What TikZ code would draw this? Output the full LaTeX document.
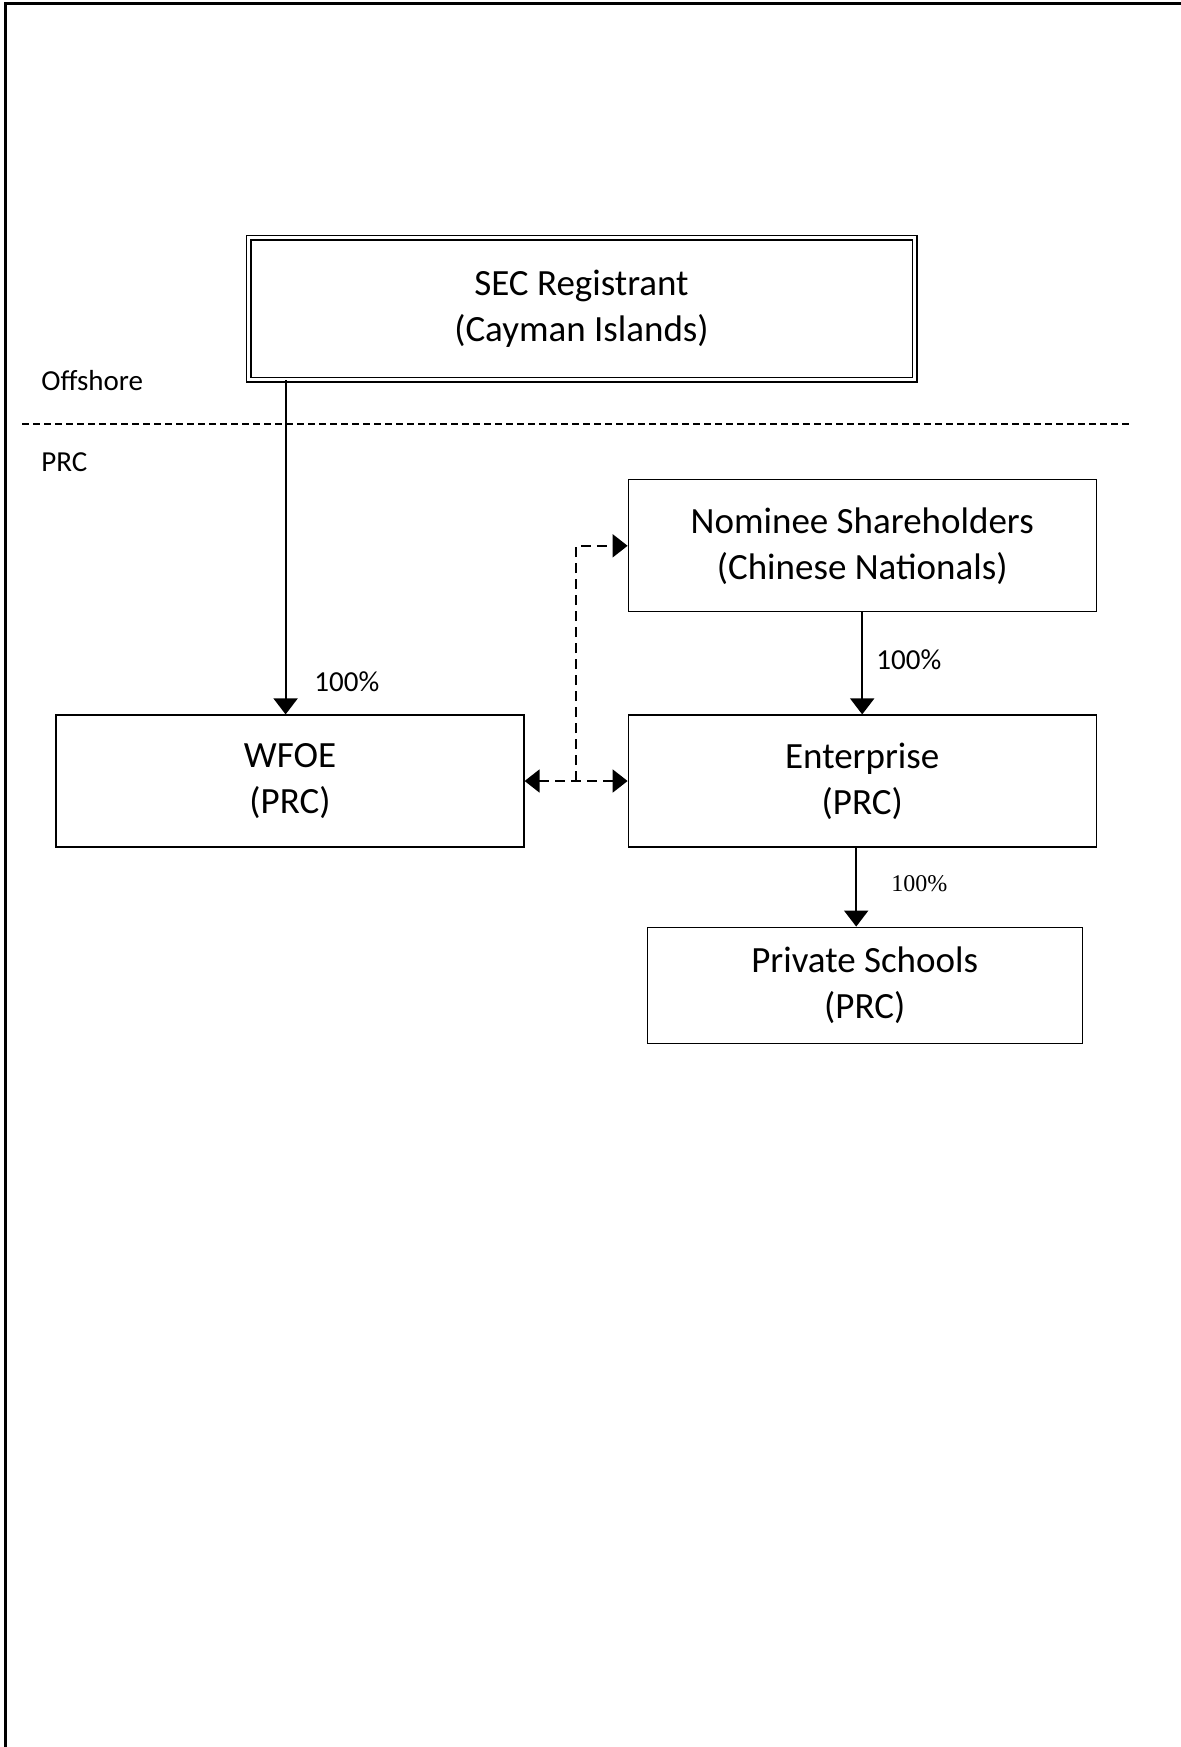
\documentclass[tikz,border=0pt]{standalone}
\usepackage{fontspec}
\setmainfont{Carlito}
\newfontfamily\timesfont{Liberation Serif}
\usetikzlibrary{arrows.meta,positioning,calc}
\tikzstyle{Block} = [draw, rectangle, line width=0.6pt, align=center, minimum width=234pt, minimum height=66pt, font=\fontsize{18.5}{23}\selectfont]
\tikzstyle{Parent} = [Block, double, line width=0.9pt, double distance=1.2pt, minimum width=333pt, minimum height=71pt]
\tikzstyle{Text} = [font=\fontsize{14.5}{17}\selectfont, anchor=west, inner sep=0pt]
\tikzstyle{Own} = [line width=0.9pt, -{Triangle[width=12pt,length=8pt]}]
\tikzstyle{Link} = [line width=1pt, dash pattern=on 5pt off 3pt, -{Triangle[width=11.5pt,length=7.5pt]}]

\begin{document}
\begin{tikzpicture}[x=0.5pt, y=-0.5pt]
    \useasboundingbox (0,0) rectangle (1181,1747);
    \draw[line width=1.5pt] (1181,3) -- (5,3) -- (5,1747);

    \node[Parent] (registrant) at (581.5,308.5)                 {SEC Registrant\\(Cayman Islands)};
    \node[Block]  (wfoe)       at (290,781)                     {WFOE\\(PRC)};
    \node[Block]  (enterprise) [right=51.5pt of wfoe]           {Enterprise\\(PRC)};
    \node[Block]  (nominee)    [above=51pt of enterprise]       {Nominee Shareholders\\(Chinese Nationals)};
    \node[Block]  (schools)    [below=39.5pt of enterprise, xshift=1.25pt, minimum width=217.5pt, minimum height=58pt] {Private Schools\\(PRC)};

    \node[Text] (offshore) at (41,381) {Offshore};
    \node[Text] (prc)      at (41,462) {PRC};
    \coordinate (lineL) at (22,424);
    \coordinate (lineR) at (1131,424);
    \draw[line width=0.6pt, dash pattern=on 3.5pt off 2pt] (lineL) -- (lineR);

    \coordinate (regleg) at ([xshift=19pt]registrant.south west);
    \coordinate (entleg) at ([xshift=-3pt]enterprise.south);
    \coordinate (junction) at ($(wfoe.east)!0.5!(enterprise.west)$);

    \draw[Own] (regleg) to (regleg |- wfoe.north);
    \draw[Own] (nominee) to (enterprise);
    \draw[Own] (entleg) to (entleg |- schools.north);
    \draw[Link] (junction) |- (nominee.west);
    \draw[Link, {Triangle[width=11.5pt,length=7.5pt]}-{Triangle[width=11.5pt,length=7.5pt]}] (wfoe.east) to (enterprise.west);

    \node[Text] (pct1) at (314,682) {100\%};
    \node[Text] (pct2) at (876,660) {100\%};
    \node[Text, font=\timesfont\fontsize{12}{14}\selectfont] (pct3) at (891,884) {100\%};
  \end{tikzpicture}
\end{document}
